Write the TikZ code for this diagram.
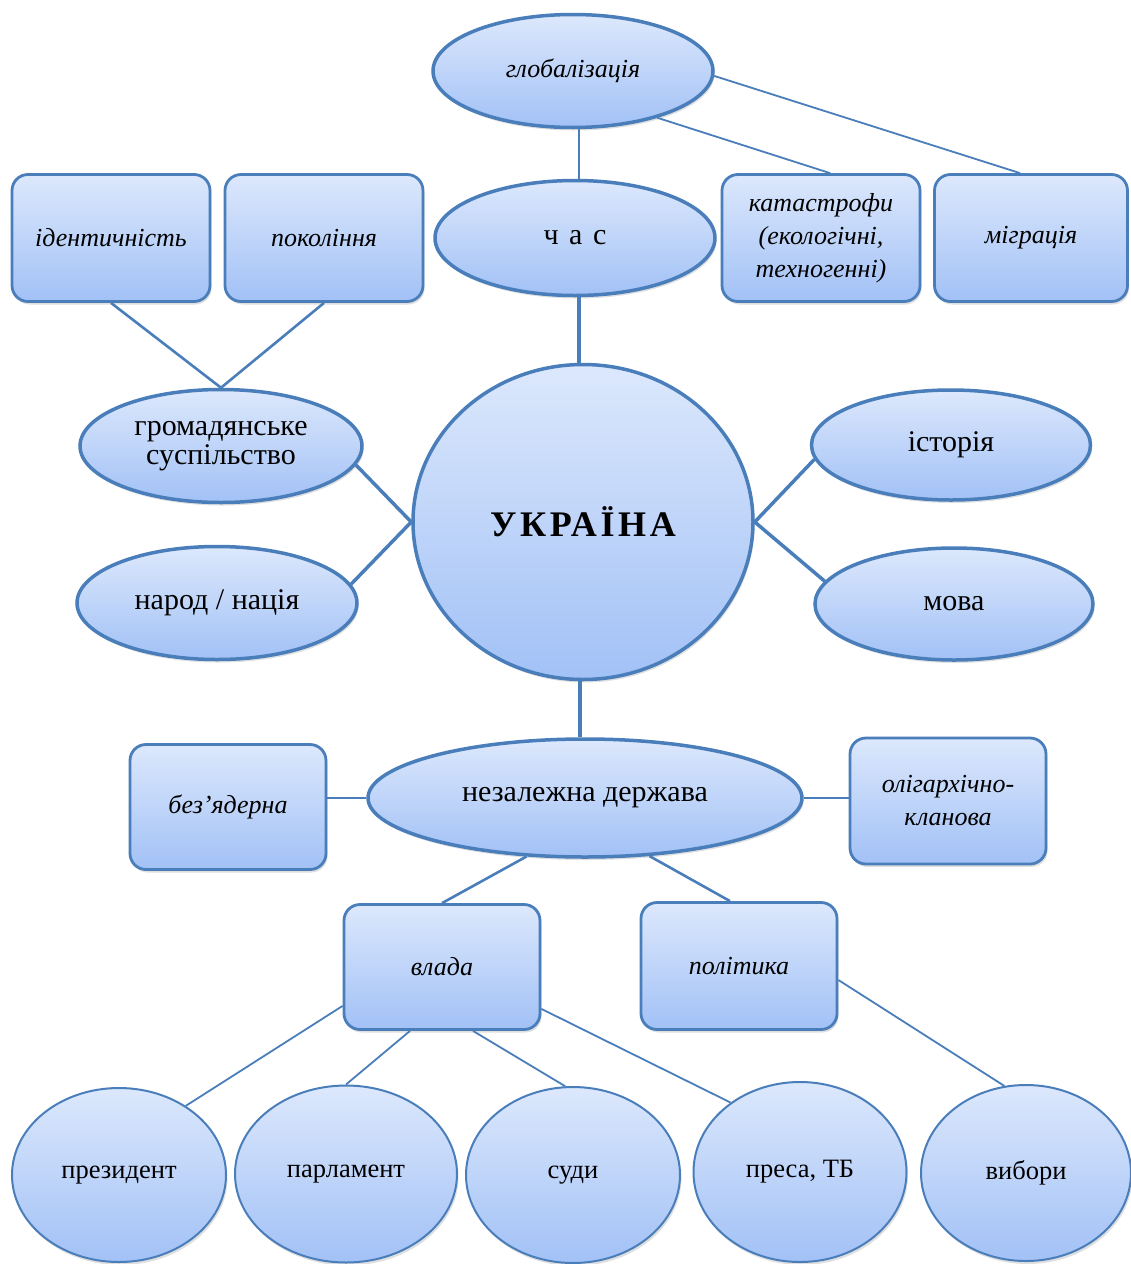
\documentclass[tikz,border=0pt]{standalone}
\usepackage{fontspec}
\setmainfont{Liberation Serif}
\usetikzlibrary{shapes.geometric,shadows,calc}
\definecolor{bord}{HTML}{4A7EBB}
\definecolor{ftop}{HTML}{DCE8FC}
\definecolor{fbot}{HTML}{A2C1F6}
\tikzset{
  base/.style={draw=bord, top color=ftop, bottom color=fbot, inner sep=0pt, align=center,
     font=\fontsize{26.5}{30}\selectfont,
     drop shadow={opacity=0.25, shadow xshift=1.5pt, shadow yshift=-3pt}},
  bigell/.style={base, ellipse, line width=3.5pt},
  smallell/.style={base, ellipse, line width=2pt},
  rbox/.style={base, rectangle, rounded corners=16pt, line width=2.8pt},
  it/.style={font=\fontsize{26}{33}\selectfont\itshape},
  big/.style={font=\fontsize{30}{29}\selectfont},
  thick line/.style={draw=bord, line width=3.5pt},
  mid line/.style={draw=bord, line width=2.6pt},
  thin line/.style={draw=bord, line width=1.8pt},
}
\begin{document}
\begin{tikzpicture}[x=1pt,y=-1pt]
\useasboundingbox (0,0) rectangle (1131,1264);
% top
\node[bigell, minimum width=280, minimum height=113, it] (glob) at (573,71) {глобалізація};
\node[bigell, minimum width=280, minimum height=115, big] (chas) at (575,238) {ч\hspace{0.35em}а\hspace{0.35em}с};
\node[rbox, minimum width=198, minimum height=127, it] (kat) at (821,238) {катастрофи\\(екологічні,\\техногенні)};
\node[rbox, minimum width=193, minimum height=127, it] (migr) at (1031,238) {міграція};
\node[rbox, minimum width=198, minimum height=127, it] (ident) at (111,238) {ідентичність};
\node[rbox, minimum width=198, minimum height=127, it] (pokol) at (324,238) {покоління};
% middle
\node[bigell, minimum width=282, minimum height=113, big] (hrom) at (221,446) {громадянське\\суспільство};
\node[bigell, minimum width=340, minimum height=315, font=\fontsize{36}{40}\selectfont\bfseries\addfontfeature{LetterSpace=10}] (ukr) at (583,522) {УКРАЇНА};
\node[bigell, minimum width=280, minimum height=113, big] (narod) at (217,603) {народ / нація};
\node[bigell, minimum width=279, minimum height=110, big] (ist) at (951,445) {історія};
\node[bigell, minimum width=278, minimum height=112, big] (mova) at (954,604) {мова};
% state
\node[bigell, minimum width=434, minimum height=118, big] (nez) at (585,798) {незалежна держава};
\node[rbox, minimum width=196, minimum height=125, it] (bez) at (228,807) {без’ядерна};
\node[rbox, minimum width=196, minimum height=126, it] (olig) at (948,801) {олігархічно-\\кланова};
\node[rbox, minimum width=196, minimum height=125, it] (vlada) at (442,967) {влада};
\node[rbox, minimum width=196, minimum height=127, it] (pol) at (739,966) {політика};
% bottom
\node[smallell, minimum width=214, minimum height=174] (prez) at (119,1175) {президент};
\node[smallell, minimum width=222, minimum height=177] (parl) at (346,1174) {парламент};
\node[smallell, minimum width=214, minimum height=176] (sudy) at (573,1175) {суди};
\node[smallell, minimum width=213, minimum height=180] (presa) at (800,1172) {преса, ТБ};
\node[smallell, minimum width=210, minimum height=176] (vyb) at (1026,1173) {вибори};
% connectors
\path[mid line] ([xshift=6]glob.south) -- ([xshift=4]chas.north);
\path[thin line] (glob.-29) -- ([xshift=9]kat.north);
\path[thin line] (glob.-2) -- ([xshift=-11]migr.north);
\path[thick line] ([xshift=4]chas.south) -- ([xshift=-4]ukr.north);
\path[mid line] (ident.south) -- (hrom.north);
\path[mid line] (pokol.south) -- (hrom.north);
\path[thick line] (hrom.-8) -- (ukr.west);
\path[thick line] (narod.8) -- (ukr.west);
\path[thick line] (ist.-174) -- (ukr.east);
\path[thick line] (mova.170) -- (ukr.east);
\path[thick line] ([xshift=-3]ukr.south) -- ([xshift=-5]nez.north);
\path[mid line] (nez.west) -- (nez.west -| bez.east);
\path[mid line] (nez.east) -- (nez.east -| olig.west);
\path[mid line] (nez.-135) -- (vlada.north);
\path[mid line] (nez.-42) -- ([xshift=-9]pol.north);
\path[thin line] ([yshift=25]vlada.south west) -- (prez.46);
\path[thin line] ([xshift=-32]vlada.south) -- (parl.north);
\path[thin line] ([xshift=31]vlada.south) -- (sudy.95);
\path[thin line] ([yshift=22]vlada.south east) -- (presa.135);
\path[thin line] ([yshift=-14]pol.east) -- (vyb.104);
\end{tikzpicture}
\end{document}
